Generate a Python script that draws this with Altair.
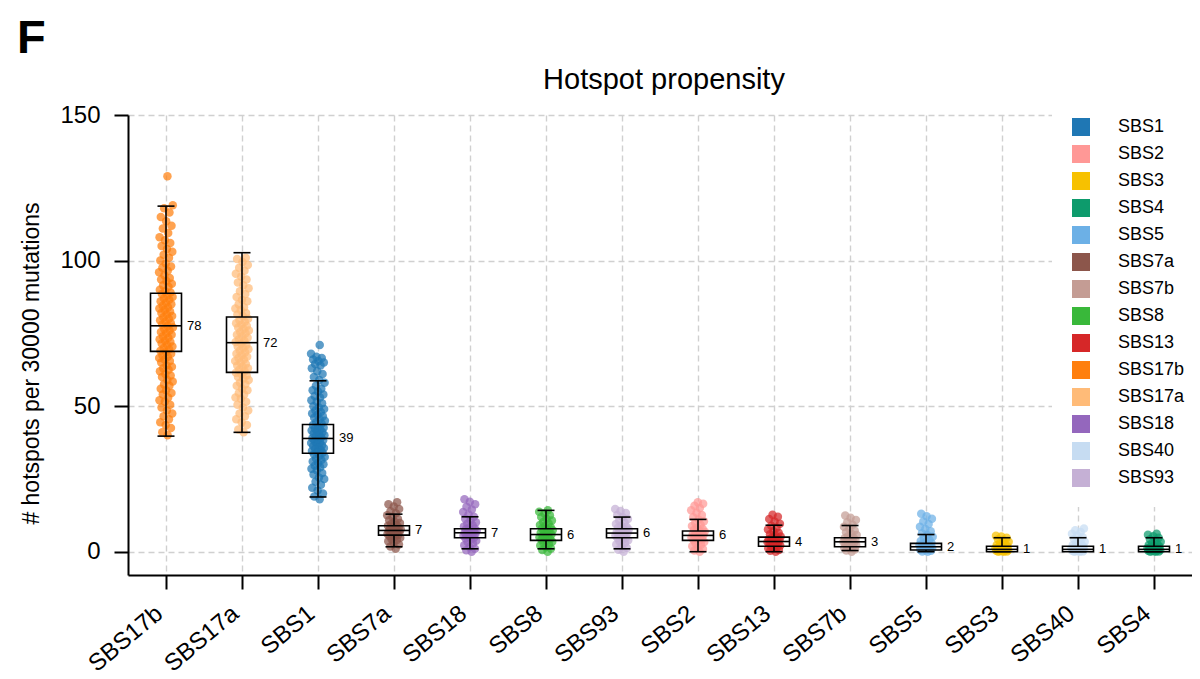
import altair as alt
import pandas as pd

FONT = "Liberation Sans"

# x-axis order
categories = ["SBS17b", "SBS17a", "SBS1", "SBS7a", "SBS18", "SBS8", "SBS93",
              "SBS2", "SBS13", "SBS7b", "SBS5", "SBS3", "SBS40", "SBS4"]

# legend order and colours
legend_order = ["SBS1", "SBS2", "SBS3", "SBS4", "SBS5", "SBS7a", "SBS7b", "SBS8",
                "SBS13", "SBS17b", "SBS17a", "SBS18", "SBS40", "SBS93"]
legend_colors = ["#1f77b4", "#ff9896", "#f7c100", "#0d9b6c", "#6cb0e6", "#8c564b",
                 "#c49c94", "#39b83a", "#d62728", "#ff7f0e", "#ffbb78", "#9467bd",
                 "#c6dcf2", "#c5b0d5"]

# box statistics (same order as categories)
box_q1 = [68.8, 61.6, 33.8, 5.7, 4.8, 3.9, 4.8, 3.9, 1.9, 1.7, 0.6, 0.0, 0.0, 0.0]
box_median = [77.6, 71.8, 38.9, 7.3, 6.5, 5.9, 6.4, 5.6, 3.5, 3.4, 1.7, 0.8, 0.8, 0.8]
box_q3 = [88.8, 80.6, 43.7, 8.9, 7.9, 7.9, 7.9, 7.1, 5.0, 4.8, 2.85, 1.9, 1.9, 1.9]
whisker_lo = [39.7, 41.0, 18.8, 1.7, 1.0, 1.0, 1.0, 0.0, 0.0, 0.4, 0.0, 0.0, 0.0, 0.0]
whisker_hi = [118.7, 102.7, 58.7, 12.9, 12.0, 14.2, 11.9, 11.1, 9.1, 9.0, 5.9, 4.8, 4.8, 4.8]
median_labels = ["78", "72", "39", "7", "7", "6", "6", "6", "4", "3", "2", "1", "1", "1"]

# per-sample values
pts_SBS17b = [40, 41, 42.5, 43.5, 44.5, 45.5, 46.5, 47.5, 48.5, 49.5, 50.5, 51.5, 52, 53,
              54, 54.5, 55.5, 56, 57, 57.5, 58.5, 59, 60, 60.5, 61, 62, 62.5, 63, 63.5, 64,
              65, 65.5, 66, 66.5, 67, 67.5, 68, 68.5, 69, 69.5, 70, 70.5, 71, 71.5, 72,
              72.5, 73, 73.5, 74, 74.5, 75, 75.5, 76, 76.5, 77, 77.5, 78, 78.5, 79, 79.5,
              80, 80.5, 81, 81.5, 82, 82.5, 83, 83.5, 84, 84.5, 85, 85.5, 86, 86.5, 87,
              87.5, 88, 88.5, 89, 89.5, 90, 91, 91.5, 92, 93, 93.5, 94, 95, 96, 96.5, 97.5,
              98, 99, 100, 101, 102, 103, 104, 105, 106, 107, 108, 109.5, 111, 112, 113.5,
              115, 116.5, 118, 119, 129]
pts_SBS17a = [41, 42, 43.5, 44.5, 45.5, 46.5, 47.5, 48.5, 49.5, 50.5, 51.5, 52.5, 53, 54,
              54.5, 55.5, 56, 57, 57.5, 58, 59, 59.5, 60, 60.5, 61, 61.5, 62, 62.5, 63,
              63.5, 64, 64.5, 65, 65.5, 66, 66.5, 67, 67.5, 68, 68.5, 69, 69.5, 70, 70.5,
              71, 71.5, 72, 72.5, 73, 73.5, 74, 74.5, 75, 75.5, 76, 76.5, 77, 77.5, 78,
              78.5, 79, 79.5, 80, 81, 81.5, 82, 83, 83.5, 84, 85, 86, 86.5, 87.5, 88.5,
              89.5, 90.5, 91.5, 92.5, 93.5, 94.5, 95.5, 96.5, 97.5, 98.5, 99.5, 100.5, 101]
pts_SBS1 = [18, 19, 20, 21, 22, 23, 24, 25, 25.5, 26.5, 27, 28, 28.5, 29, 29.5, 30, 30.5,
            31, 31.5, 32, 32.5, 33, 33.5, 34, 34.3, 34.6, 35, 35.3, 35.6, 36, 36.3, 36.6,
            37, 37.3, 37.6, 38, 38.3, 38.6, 39, 39.3, 39.6, 40, 40.3, 40.6, 41, 41.3, 41.6,
            42, 42.3, 42.6, 43, 43.5, 44, 44.5, 45, 45.5, 46, 46.5, 47, 47.5, 48, 48.5, 49,
            49.5, 50, 51, 51.5, 52, 53, 53.5, 54, 55, 55.5, 56, 57, 58, 59, 60, 61, 62, 63,
            64, 64.5, 65, 65.5, 66, 66.5, 67, 68, 71]
pts_SBS7a = [1.0, 1.8, 2.5, 3.1, 3.6, 4.0, 4.4, 4.8, 5.1, 5.4, 5.7, 5.9, 6.1, 6.3, 6.5, 6.7,
             6.9, 7.1, 7.3, 7.5, 7.7, 7.9, 8.1, 8.3, 8.6, 8.9, 9.2, 9.5, 9.9, 10.3, 10.8,
             11.3, 11.9, 12.5, 13.2, 13.9, 14.7, 15.5, 16.3, 17.0]
pts_SBS18 = [0.0, 0.5, 1.0, 1.6, 2.2, 2.8, 3.3, 3.8, 4.2, 4.6, 4.9, 5.2, 5.5, 5.8, 6.0, 6.2,
             6.4, 6.6, 6.8, 7.0, 7.2, 7.4, 7.7, 8.0, 8.3, 8.7, 9.1, 9.6, 10.1, 10.7, 11.3,
             12.0, 12.8, 13.6, 14.5, 15.4, 16.3, 17.2, 18.0]
pts_SBS8 = [0.0, 0.6, 1.1, 1.6, 2.1, 2.6, 3.0, 3.4, 3.8, 4.1, 4.4, 4.7, 5.0, 5.3, 5.6, 5.9,
            6.2, 6.5, 6.8, 7.1, 7.4, 7.7, 8.0, 8.4, 8.8, 9.2, 9.7, 10.2, 10.7, 11.3, 11.9,
            12.5, 13.1, 13.7, 14.2]
pts_SBS93 = [0.0, 0.7, 1.3, 1.9, 2.5, 3.0, 3.5, 3.9, 4.3, 4.7, 5.0, 5.3, 5.6, 5.9, 6.2, 6.4,
             6.6, 6.8, 7.0, 7.3, 7.6, 7.9, 8.2, 8.6, 9.0, 9.5, 10.0, 10.6, 11.2, 11.9, 12.6,
             13.3, 14.0, 14.7]
pts_SBS2 = [0.0, 0.4, 0.9, 1.4, 1.9, 2.4, 2.9, 3.3, 3.7, 4.0, 4.3, 4.6, 4.9, 5.2, 5.5, 5.7,
            5.9, 6.1, 6.3, 6.6, 6.9, 7.2, 7.5, 7.9, 8.3, 8.8, 9.3, 9.9, 10.5, 11.1, 11.8,
            12.6, 13.4, 14.2, 15.0, 15.8, 16.5, 17.0]
pts_SBS13 = [0.0, 0.3, 0.6, 0.9, 1.2, 1.5, 1.8, 2.1, 2.4, 2.7, 2.9, 3.1, 3.3, 3.5, 3.7, 3.9,
             4.1, 4.3, 4.6, 4.9, 5.2, 5.6, 6.0, 6.5, 7.0, 7.6, 8.2, 8.9, 9.6, 10.4, 11.2,
             12.0, 12.7]
pts_SBS7b = [0.0, 0.4, 0.8, 1.1, 1.4, 1.7, 2.0, 2.3, 2.6, 2.8, 3.0, 3.2, 3.4, 3.6, 3.8, 4.0,
             4.3, 4.6, 4.9, 5.3, 5.7, 6.2, 6.7, 7.3, 7.9, 8.6, 9.3, 10.1, 10.9, 11.7, 12.4]
pts_SBS5 = [0.0, 0.1, 0.3, 0.5, 0.7, 0.9, 1.1, 1.3, 1.5, 1.7, 1.9, 2.1, 2.3, 2.5, 2.7, 3.0,
            3.3, 3.7, 4.1, 4.6, 5.1, 5.7, 6.3, 7.0, 7.8, 8.6, 9.5, 10.4, 11.3, 12.2, 13.0]
pts_SBS3 = [0.0, 0.0, 0.1, 0.2, 0.3, 0.4, 0.5, 0.6, 0.7, 0.8, 0.9, 1.0, 1.2, 1.4, 1.6, 1.8,
            2.0, 2.3, 2.6, 3.0, 3.4, 3.8, 4.3, 4.8, 5.2, 5.5]
pts_SBS40 = [0.0, 0.0, 0.1, 0.2, 0.3, 0.4, 0.5, 0.6, 0.7, 0.8, 0.9, 1.0, 1.2, 1.4, 1.6, 1.8,
             2.0, 2.3, 2.6, 3.0, 3.4, 3.9, 4.4, 5.0, 5.6, 6.2, 6.8, 7.4, 8.0]
pts_SBS4 = [0.0, 0.0, 0.1, 0.2, 0.3, 0.4, 0.5, 0.6, 0.7, 0.8, 0.9, 1.0, 1.2, 1.4, 1.6, 1.8,
            2.0, 2.3, 2.6, 3.0, 3.4, 3.8, 4.3, 4.8, 5.3, 5.8, 6.2]

point_lists = {
    "SBS17b": pts_SBS17b, "SBS17a": pts_SBS17a, "SBS1": pts_SBS1, "SBS7a": pts_SBS7a,
    "SBS18": pts_SBS18, "SBS8": pts_SBS8, "SBS93": pts_SBS93, "SBS2": pts_SBS2,
    "SBS13": pts_SBS13, "SBS7b": pts_SBS7b, "SBS5": pts_SBS5, "SBS3": pts_SBS3,
    "SBS40": pts_SBS40, "SBS4": pts_SBS4,
}

chart_title = "Hotspot propensity"
panel_letter = "F"
Y_TITLE = "# hotspots per 30000 mutations"

points_df = pd.DataFrame(
    [{"sig": k, "value": v} for k, vals in point_lists.items() for v in vals]
)
box_df = pd.DataFrame({
    "sig": categories, "q1": box_q1, "med": box_median, "q3": box_q3,
    "lo": whisker_lo, "hi": whisker_hi, "lab": median_labels,
})

x_enc = alt.X(
    "sig:N",
    sort=categories,
    scale=alt.Scale(type="band", domain=categories, paddingInner=0, paddingOuter=0),
    axis=alt.Axis(
        title=None, labelAngle=-40, labelFontSize=24, tickSize=14, labelPadding=12,
        labelOffset=-14, grid=True, domainWidth=2, tickWidth=2,
    ),
)


def y_enc(field):
    return alt.Y(
        f"{field}:Q",
        scale=alt.Scale(domain=[-8, 150], nice=False, zero=False),
        axis=alt.Axis(
            title=Y_TITLE, values=[0, 50, 100, 150], tickSize=14, labelPadding=14,
            labelFontSize=24, titleFontSize=23, titleFontWeight="normal",
            titleX=-90, titleY=248, titleAngle=-90, titleAlign="center",
            titleBaseline="alphabetic", grid=True, domainWidth=2, tickWidth=2,
        ),
    )


points = alt.Chart(points_df).transform_window(
    idx="row_number()", groupby=["sig"]
).transform_calculate(
    jit="((datum.idx * 0.6180339887) % 1) * 2 - 1"
).mark_circle(size=72, opacity=0.72).encode(
    x=x_enc,
    xOffset=alt.XOffset("jit:Q", scale=alt.Scale(domain=[-1, 1], range=[31, 45])),
    y=y_enc("value"),
    color=alt.Color(
        "sig:N",
        scale=alt.Scale(domain=legend_order, range=legend_colors),
        legend=alt.Legend(
            title=None, orient="none", legendX=924, legendY=-17, symbolType="square",
            symbolSize=324, symbolOpacity=1, symbolStrokeWidth=0, labelFontSize=18,
            labelFont=FONT, labelColor="black", labelOffset=28, rowPadding=9,
            padding=20, fillColor="white",
        ),
    ),
)

box_base = alt.Chart(box_df)
boxes = box_base.mark_bar(width=31, fillOpacity=0, stroke="black", strokeWidth=1.6).encode(
    x=x_enc, y=y_enc("q1"), y2="q3"
)
whisk_lo = box_base.mark_rule(color="black", strokeWidth=1.6).encode(
    x=x_enc, y=y_enc("lo"), y2="q1"
)
whisk_hi = box_base.mark_rule(color="black", strokeWidth=1.6).encode(
    x=x_enc, y=y_enc("q3"), y2="hi"
)
cap_lo = box_base.mark_tick(size=17, thickness=1.6, color="black", opacity=1).encode(
    x=x_enc, y=y_enc("lo")
)
cap_hi = box_base.mark_tick(size=17, thickness=1.6, color="black", opacity=1).encode(
    x=x_enc, y=y_enc("hi")
)
medians = box_base.mark_tick(size=31, thickness=1.6, color="black", opacity=1).encode(
    x=x_enc, y=y_enc("med")
)
med_text = box_base.mark_text(
    align="left", baseline="middle", dx=21, fontSize=13, font=FONT, color="black"
).encode(x=x_enc, y=y_enc("med"), text="lab:N")

panel = alt.Chart(pd.DataFrame({"t": [panel_letter]})).mark_text(
    align="left", baseline="alphabetic", fontSize=47, fontWeight="bold", font=FONT,
    color="black"
).encode(x=alt.value(-111), y=alt.value(-62), text="t:N")

title_mark = alt.Chart(pd.DataFrame({"t": [chart_title]})).mark_text(
    align="center", baseline="alphabetic", fontSize=29, font=FONT, color="black"
).encode(x=alt.value(536), y=alt.value(-26), text="t:N")

chart = alt.layer(
    points, boxes, whisk_lo, whisk_hi, cap_lo, cap_hi, medians, med_text, panel, title_mark
).properties(
    width=1064,
    height=460,
    autosize=alt.AutoSizeParams(type="none"),
    padding={"left": 120, "top": 107, "right": 0, "bottom": 100},
).configure_axis(
    gridDash=[6, 4], gridColor="#d0d0d0", gridWidth=1.4,
    domainColor="black", tickColor="black", labelColor="black", titleColor="black",
    labelFont=FONT, titleFont=FONT,
).configure_view(strokeWidth=0)

chart.save("out.html", embed_options={"renderer": "svg", "actions": False})
